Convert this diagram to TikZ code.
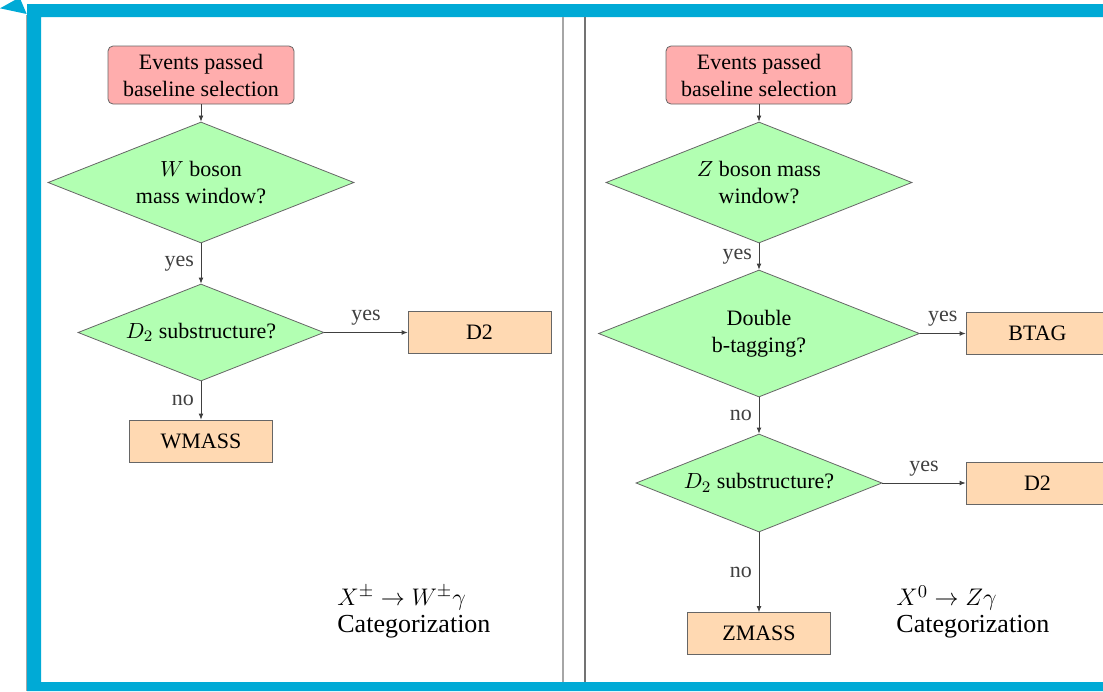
\documentclass[tikz,border=0pt]{standalone}
\usepackage{fontspec}
\setmainfont{Liberation Serif}
\newfontfamily\timesfont{Liberation Serif}
\usetikzlibrary{shapes.geometric,arrows.meta}
\definecolor{framecol}{RGB}{0,170,214}
\begin{document}
\begin{tikzpicture}[x=0.5pt,y=-0.5pt,font=\timesfont\fontsize{11}{13.5}\selectfont]
    \tikzset{start/.style={draw=black!60,fill=red!32,rounded corners=2.5pt,minimum
        width=93pt,minimum height=29pt,align=center,inner sep=0pt},decision/.style={diamond,
        draw=black!60,fill=green!30,align=center,inner sep=0pt,aspect=2.5},categ/.style={draw=black!60,
        fill=orange!30,minimum width=71.5pt,minimum height=21pt,inner sep=0pt},flow/.style={black!75,
        line width=0.4pt,-{Latex[length=3pt,width=2.4pt]}},summary/.style={align=left,anchor=west,
        inner sep=0pt,font=\timesfont\fontsize{13}{13.5}\selectfont}}
    \useasboundingbox (0,0) rectangle (1103,691);

    % frame and divider
    \fill[framecol,even odd rule] (27,4) rectangle (1103,691) (41,17) rectangle (1103,682);
    \fill[framecol] (0,8.3) -- (15,0) -- (20.7,0) -- (26.7,14) -- cycle;
    \draw[black!35,line width=0.6pt] (26.5,15) -- (26.5,691);
    \draw[black!35,line width=0.8pt] (563,17) -- (563,682);
    \draw[black!55,line width=0.8pt] (585,17) -- (585,682);

    % W gamma
    \node[start] (lstart) at (201,75) {Events passed\\baseline selection};
    \node[decision,minimum width=153pt,minimum height=60.5pt] (wmw) at (201,182.5) {$W$ boson\\mass window?};
    \node[decision,minimum width=123pt,minimum height=48.5pt] (ldtwo) at (201,332.5) {$D_2$ substructure?};
    \node[categ] (lcd2) at (479.5,332.5) {D2};
    \node[categ] (wmass) at (201,441) {WMASS};
    \node[summary] (wsum) at (337,612) {$X^{\pm}\rightarrow W^{\pm}\gamma$\\Categorization};

    \draw[flow] (lstart) -- (wmw);
    \draw[flow] (wmw) -- node[left] {yes} (ldtwo);
    \draw[flow] (ldtwo) -- node[above] {yes} (lcd2);
    \draw[flow] (ldtwo) -- node[left] {no} (wmass);

    % Z gamma
    \node[start] (rstart) at (759,75) {Events passed\\baseline selection};
    \node[decision,minimum width=153pt,minimum height=60.5pt] (zmw) at (759,182.5) {$Z$ boson mass\\window?};
    \node[decision,minimum width=160.5pt,minimum height=63.5pt] (btagq) at (759,333.5) {Double\\b-tagging?};
    \node[categ] (btag) at (1037.5,333.5) {BTAG};
    \node[decision,minimum width=123pt,minimum height=49pt] (rdtwo) at (759,483) {$D_2$ substructure?};
    \node[categ] (rcd2) at (1037.5,483) {D2};
    \node[categ] (zmass) at (759,633.5) {ZMASS};
    \node[summary] (zsum) at (896,612) {$X^{0}\rightarrow Z\gamma$\\Categorization};

    \draw[flow] (rstart) -- (zmw);
    \draw[flow] (zmw) -- node[left] {yes} (btagq);
    \draw[flow] (btagq) -- node[above] {yes} (btag);
    \draw[flow] (btagq) -- node[left] {no} (rdtwo);
    \draw[flow] (rdtwo) -- node[above] {yes} (rcd2);
    \draw[flow] (rdtwo) -- node[left] {no} (zmass);

\end{tikzpicture}
\end{document}
